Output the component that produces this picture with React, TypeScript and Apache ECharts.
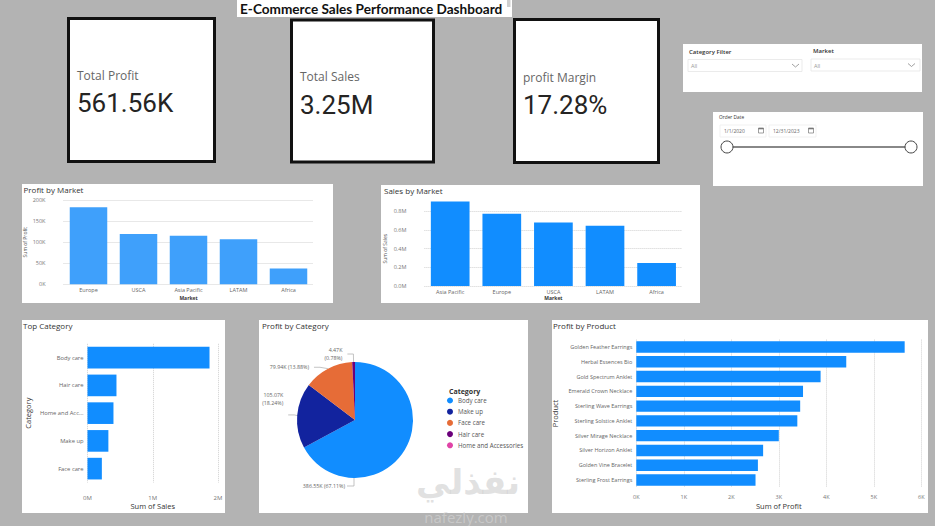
import { useEffect, useRef } from 'react';
import * as echarts from 'echarts';

// ---------------- data ----------------
const kpiLabels = ['Total Profit', 'Total Sales', 'profit Margin'];
const kpiValues = ['561.56K', '3.25M', '17.28%'];

const profitMarkets = ['Europe', 'USCA', 'Asia Pacific', 'LATAM', 'Africa'];
const profitByMarket = [182600, 119400, 115400, 106700, 37500];
const profitMarketTicks = ['0K', '50K', '100K', '150K', '200K'];

const salesMarkets = ['Asia Pacific', 'Europe', 'USCA', 'LATAM', 'Africa'];
const salesByMarket = [905000, 775000, 680000, 645000, 245000];
const salesMarketTicks = ['0.0M', '0.2M', '0.4M', '0.6M', '0.8M'];

const topCategories = ['Body care', 'Hair care', 'Home and Accessories', 'Make up', 'Face care'];
const topCategorySales = [1870000, 444000, 398000, 320000, 220000];
const topCategoryTicks = ['0M', '1M', '2M'];

const pieCategories = ['Body care', 'Make up', 'Face care', 'Hair care', 'Home and Accessories'];
const profitByCategory = [386550, 105070, 79940, 4470, -14470];

const products = [
  'Golden Feather Earrings',
  'Herbal Essences Bio',
  'Gold Spectrum Anklet',
  'Emerald Crown Necklace',
  'Sterling Wave Earrings',
  'Sterling Solstice Anklet',
  'Silver Mirage Necklace',
  'Silver Horizon Anklet',
  'Golden Vine Bracelet',
  'Sterling Frost Earrings',
];
const profitByProduct = [5650, 4420, 3880, 3510, 3450, 3390, 3000, 2670, 2560, 2510];
const productTicks = ['0K', '1K', '2K', '3K', '4K', '5K', '6K'];

const filterNames = ['Category Filter', 'Market'];
const filterValue = 'All';
const dateLabel = 'Order Date';
const dateRange = ['1/1/2020', '12/31/2023'];

// ---------------- style ----------------
const FONT = '"Open Sans", "Noto Sans", sans-serif';
const BLUE = '#118DFF';
const PALETTE = ['#118DFF', '#12239E', '#E66C37', '#6B007B', '#E044A7'];
const PIE_CX = 355;
const PIE_CY = 420;
const PIE_R = 58;

const rect = (x: number, y: number, w: number, h: number, style: any, z = -5) => ({
  type: 'rect', z, shape: { x, y, width: w, height: h }, style,
});
const text = (
  t: string, x: number, y: number, size: number, fill: string,
  weight = 'normal', family = FONT, align = 'left', z = 10,
) => ({
  type: 'text', z, x, y,
  style: {
    text: t, fill, font: `${weight} ${size}px ${family}`,
    align, textAlign: align, verticalAlign: 'middle', textVerticalAlign: 'middle',
  },
});
const chevron = (cx: number, cy: number) => ({
  type: 'polyline', z: 10,
  shape: { points: [[cx - 3.5, cy - 1.5], [cx, cy + 1.5], [cx + 3.5, cy - 1.5]] },
  style: { stroke: '#888', lineWidth: 0.8, fill: null },
});
const calendar = (cx: number, cy: number) => ([
  { type: 'rect', z: 10, shape: { x: cx - 2.5, y: cy - 2.5, width: 5, height: 5 }, style: { fill: '#fff', stroke: '#777', lineWidth: 0.7 } },
  { type: 'rect', z: 11, shape: { x: cx - 2.5, y: cy - 2.5, width: 5, height: 1.3 }, style: { fill: '#777' } },
]);

function buildGraphic() {
  const els: any[] = [];
  // title
  els.push(rect(237, 0, 275, 17, { fill: '#fff' }));
  els.push(rect(507, 0, 3.5, 7, { fill: '#cfcfcf' }, -4));
  els.push(text('E-Commerce Sales Performance Dashboard', 240, 9, 13.6, '#111', 'bold', 'Lato'));

  // KPI cards
  const cards = [
    { x: 68.5, y: 18.5, w: 146, h: 143, ly: 75 },
    { x: 291.5, y: 20, w: 142, h: 142, ly: 76.5 },
    { x: 514.5, y: 19.5, w: 144, h: 143, ly: 77 },
  ];
  cards.forEach((c, i) => {
    els.push(rect(c.x, c.y, c.w, c.h, { fill: '#fff', stroke: '#111', lineWidth: 3 }));
    els.push(text(kpiLabels[i], c.x + 8.5, c.ly, 12, '#666'));
    els.push(text(kpiValues[i], c.x + 8.5, c.ly + 28, 26, '#252423', 'normal', 'Roboto'));
  });

  // filters
  els.push(rect(683, 44, 239, 48, { fill: '#fff' }));
  const dd = [
    { lx: 689, ly: 51.5, bx: 688, by: 59.5, bw: 114, cx: 795.5 },
    { lx: 813, ly: 50.5, bx: 811, by: 59, bw: 109, cx: 911.5 },
  ];
  dd.forEach((d, i) => {
    els.push(text(filterNames[i], d.lx, d.ly, 6, '#333', '600'));
    els.push(rect(d.bx, d.by, d.bw, 12, { fill: '#fff', stroke: '#e6e6e6', lineWidth: 0.8 }, 0));
    els.push(text(filterValue, d.bx + 3, d.by + 6.5, 5.5, '#999'));
    els.push(chevron(d.cx, d.by + 6));
  });

  // date slicer
  els.push(rect(713, 112, 210, 74, { fill: '#fff' }));
  els.push(text(dateLabel, 719, 117, 4.8, '#333'));
  const dates = [{ bx: 720, bw: 46, ix: 761 }, { bx: 769, bw: 47, ix: 811 }];
  dates.forEach((d, i) => {
    els.push(rect(d.bx, 125, d.bw, 12, { fill: '#fff', stroke: '#eeeeee', lineWidth: 0.8 }, 0));
    els.push(text(dateRange[i], d.bx + 4, 131, 5, '#666'));
    calendar(d.ix, 130.5).forEach((e) => els.push(e));
  });
  els.push({ type: 'line', z: 10, shape: { x1: 727, y1: 147, x2: 911, y2: 147 }, style: { stroke: '#888', lineWidth: 2 } });
  [727, 911].forEach((cx) => els.push({ type: 'circle', z: 11, shape: { cx, cy: 147, r: 6 }, style: { fill: '#fff', stroke: '#444', lineWidth: 1 } }));

  // panels
  els.push(rect(22, 184, 311, 119, { fill: '#fff' }));
  els.push(rect(381, 185, 319, 118, { fill: '#fff' }));
  els.push(rect(22, 320, 203, 193, { fill: '#fff' }));
  els.push(rect(259, 320, 269, 193, { fill: '#fff' }));
  els.push(rect(552, 320, 376, 193, { fill: '#fff' }));
  els.push(text('Profit by Market', 23.5, 189.5, 8, '#333'));
  els.push(text('Sales by Market', 384, 190, 8, '#333'));
  els.push(text('Top Category', 23, 325, 8, '#333'));
  els.push(text('Profit by Category', 262, 325, 8, '#333'));
  els.push(text('Profit by Product', 553, 325, 8, '#333'));
  els.push(text('Category', 449, 391, 7, '#333', 'bold'));

  // watermark
  els.push(text('نفذلي', 468, 482, 34, 'rgba(200,200,200,0.55)', 'bold', '"DejaVu Sans"', 'center', 100));
  els.push(text('nafezly.com', 466, 517, 15, 'rgba(215,215,215,0.6)', 'normal', FONT, 'center', 100));
  return els;
}

const catLabel = { fontSize: 5.5, color: '#666', fontFamily: FONT };
const valLabel = { fontSize: 5.5, color: '#777', fontFamily: FONT };
const splitDot = { show: true, lineStyle: { type: 'dotted', color: '#d0d0d0', width: 1 } };
const noLine = { show: false };

function buildOption(): any {
  const pieSum = profitByCategory.reduce((s, v) => s + Math.max(v, 0), 0);
  return {
    animation: false,
    backgroundColor: '#b3b3b3',
    color: PALETTE,
    textStyle: { fontFamily: FONT },
    graphic: { elements: buildGraphic() },
    grid: [
      { left: 63.5, top: 200, width: 250, height: 84.3 },
      { left: 424.4, top: 211.3, width: 258, height: 74.7 },
      { left: 87.5, top: 343.8, width: 130.5, height: 138.7 },
      { left: 636.3, top: 339.6, width: 285, height: 147.8 },
    ],
    xAxis: [
      {
        type: 'category', gridIndex: 0, data: profitMarkets,
        axisLine: noLine, axisTick: noLine, axisLabel: { ...catLabel, margin: 3 },
        name: 'Market', nameLocation: 'middle', nameGap: 11,
        nameTextStyle: { fontSize: 5, color: '#333', fontWeight: 'bold' },
      },
      {
        type: 'category', gridIndex: 1, data: salesMarkets,
        axisLine: noLine, axisTick: noLine, axisLabel: { ...catLabel, margin: 2.5 },
        name: 'Market', nameLocation: 'middle', nameGap: 9.5,
        nameTextStyle: { fontSize: 5, color: '#333', fontWeight: 'bold' },
      },
      {
        type: 'value', gridIndex: 2, min: 0, max: 2000000, interval: 1000000,
        axisLine: noLine, axisTick: noLine, splitLine: splitDot,
        axisLabel: { ...valLabel, fontSize: 6, margin: 12, formatter: (v: number) => topCategoryTicks[Math.round(v / 1000000)] },
        name: 'Sum of Sales', nameLocation: 'middle', nameGap: 19.5,
        nameTextStyle: { fontSize: 7.5, color: '#333' },
      },
      {
        type: 'value', gridIndex: 3, min: 0, max: 6000, interval: 1000,
        axisLine: noLine, axisTick: noLine, splitLine: splitDot,
        axisLabel: { ...valLabel, margin: 6.5, formatter: (v: number) => productTicks[Math.round(v / 1000)] },
        name: 'Sum of Profit', nameLocation: 'middle', nameGap: 15,
        nameTextStyle: { fontSize: 7.5, color: '#333' },
      },
    ],
    yAxis: [
      {
        type: 'value', gridIndex: 0, min: 0, max: 200000, interval: 50000,
        axisLine: noLine, axisTick: noLine, splitLine: splitDot,
        axisLabel: { ...valLabel, margin: 18, formatter: (v: number) => profitMarketTicks[Math.round(v / 50000)] },
        name: 'Sum of Profit', nameLocation: 'middle', nameRotate: 90, nameGap: 36,
        nameTextStyle: { fontSize: 5, color: '#555' },
      },
      {
        type: 'value', gridIndex: 1, min: 0, max: 800000, interval: 200000,
        axisLine: noLine, axisTick: noLine, splitLine: splitDot,
        axisLabel: { ...valLabel, margin: 18, formatter: (v: number) => salesMarketTicks[Math.round(v / 200000)] },
        name: 'Sum of Sales', nameLocation: 'middle', nameRotate: 90, nameGap: 37,
        nameTextStyle: { fontSize: 5, color: '#555' },
      },
      {
        type: 'category', gridIndex: 2, data: topCategories, inverse: true,
        axisLine: noLine, axisTick: noLine,
        axisLabel: { ...catLabel, fontSize: 5.8, margin: 4, width: 46, overflow: 'truncate', ellipsis: '...' },
        name: 'Category', nameLocation: 'middle', nameRotate: 90, nameGap: 56,
        nameTextStyle: { fontSize: 7.5, color: '#333' },
      },
      {
        type: 'category', gridIndex: 3, data: products, inverse: true,
        axisLine: noLine, axisTick: noLine,
        axisLabel: { ...catLabel, margin: 4 },
        name: 'Product', nameLocation: 'middle', nameRotate: 90, nameGap: 77,
        nameTextStyle: { fontSize: 7.5, color: '#333' },
      },
    ],
    legend: {
      data: pieCategories, orient: 'vertical', left: 447, top: 397.5, padding: 0,
      icon: 'circle', itemWidth: 6, itemHeight: 6, itemGap: 5.2, selectedMode: false,
      textStyle: { fontSize: 6.2, color: '#555', fontFamily: FONT },
    },
    series: [
      {
        type: 'bar', xAxisIndex: 0, yAxisIndex: 0, data: profitByMarket,
        barWidth: '75%', itemStyle: { color: '#3fa0fb' }, silent: true,
      },
      {
        type: 'bar', xAxisIndex: 1, yAxisIndex: 1, data: salesByMarket, clip: false,
        barWidth: '75%', itemStyle: { color: BLUE }, silent: true,
      },
      {
        type: 'bar', xAxisIndex: 2, yAxisIndex: 2, data: topCategorySales,
        barWidth: '78%', itemStyle: { color: BLUE }, silent: true,
      },
      {
        type: 'bar', xAxisIndex: 3, yAxisIndex: 3, data: profitByProduct,
        barWidth: '77%', itemStyle: { color: BLUE }, silent: true,
      },
      {
        type: 'pie', center: [PIE_CX, PIE_CY], radius: PIE_R, startAngle: 90, clockwise: true,
        silent: true,
        data: pieCategories.map((name, i) => {
          const v = Math.max(profitByCategory[i], 0);
          const item: any = { name, value: v };
          if (v <= 0) { item.label = { show: false }; item.labelLine = { show: false }; }
          return item;
        }),
        label: {
          fontSize: 5.3, color: '#666', fontFamily: FONT, lineHeight: 7.5,
          formatter: (p: any) => {
            const pct = ((p.value / pieSum) * 100).toFixed(2);
            const sep = p.dataIndex === 1 || p.dataIndex === 3 ? '\n' : ' ';
            return `${(p.value / 1000).toFixed(2)}K${sep}(${pct}%)`;
          },
        },
        labelLine: { length: 8, length2: 6, lineStyle: { color: '#aaa', width: 0.7 } },
        labelLayout: (p: any) => {
          if (p.dataIndex === 0) {
            const by = PIE_CY + PIE_R;
            return {
              x: PIE_CX - 10, y: by + 8, align: 'right', verticalAlign: 'middle',
              labelLinePoints: [[PIE_CX - 1, by], [PIE_CX - 1, by + 8], [PIE_CX - 8, by + 8]],
            };
          }
          if (p.dataIndex === 1) return { dy: -16 };
          return {};
        },
      },
    ],
  };
}

export default function App() {
  const ref = useRef<HTMLDivElement>(null);
  useEffect(() => {
    document.body.style.margin = '0';
    const chart = echarts.init(ref.current!, null, { renderer: 'svg' });
    chart.setOption(buildOption());
    return () => chart.dispose();
  }, []);
  return <div ref={ref} style={{ width: 935, height: 526 }} />;
}
